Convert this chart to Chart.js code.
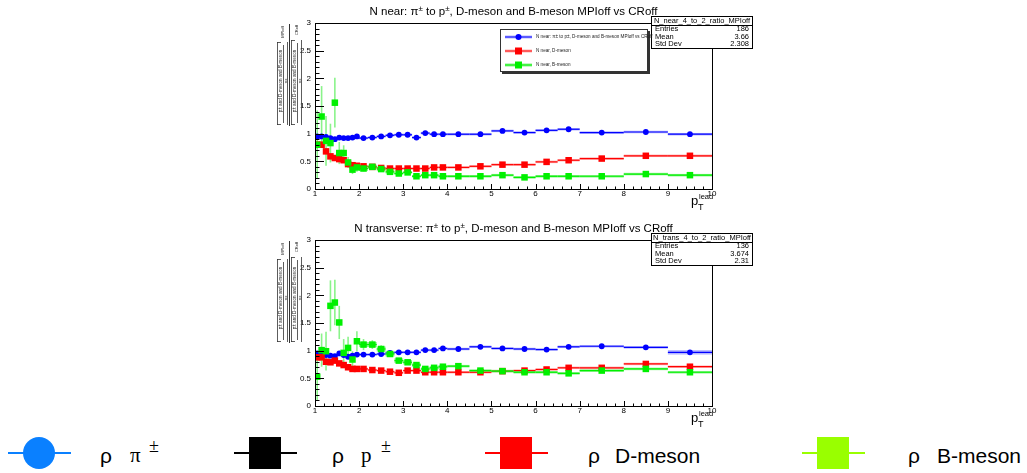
<!DOCTYPE html>
<html>
<head>
<meta charset="utf-8">
<script src="https://cdn.jsdelivr.net/npm/chart.js@4.4.0/dist/chart.umd.min.js"></script>
<style>
  html, body { margin: 0; padding: 0; background: #fff; }
  #page { position: relative; width: 1027px; height: 473px; overflow: hidden; }
  .pane { position: absolute; left: 0; width: 1027px; height: 215px; }
  .key { position: absolute; }
  .txt { position: absolute; white-space: nowrap; color: #000; line-height: 21px; font-size: 21px; top: 445px; }
  .sans { font-family: "Liberation Sans", Arial, sans-serif; }
  .serif { font-family: "Liberation Serif", "Times New Roman", serif; }
  .sup { position: absolute; white-space: nowrap; font-family: "Liberation Serif", serif; font-size: 18px; line-height: 18px; top: 437px; }
</style>
</head>
<body>
<div id="page">
  <div class="pane" style="top:0"><canvas id="nearChart" width="1027" height="215"></canvas></div>
  <div class="pane" style="top:215px"><canvas id="transChart" width="1027" height="215"></canvas></div>

  <!-- species key -->
  <div class="key" style="left:8px;top:452px;width:63px;height:2px;background:#0a80ff"></div>
  <div class="key" style="left:23px;top:437px;width:32px;height:32px;border-radius:50%;background:#0a80ff"></div>
  <div class="txt sans" style="left:100px">ρ</div>
  <div class="txt serif" style="left:130px">π</div>
  <div class="sup" style="left:149px">±</div>

  <div class="key" style="left:234px;top:452px;width:63px;height:2px;background:#000"></div>
  <div class="key" style="left:249px;top:437px;width:32px;height:32px;background:#000"></div>
  <div class="txt sans" style="left:332px">ρ</div>
  <div class="txt serif" style="left:361px">p</div>
  <div class="sup" style="left:381px">±</div>

  <div class="key" style="left:485px;top:452px;width:63px;height:2px;background:#ff0000"></div>
  <div class="key" style="left:500px;top:437px;width:32px;height:32px;background:#ff0000"></div>
  <div class="txt sans" style="left:588px">ρ</div>
  <div class="txt sans" style="left:615px">D-meson</div>

  <div class="key" style="left:802px;top:452px;width:63px;height:2px;background:#99ff00"></div>
  <div class="key" style="left:817px;top:437px;width:32px;height:32px;background:#99ff00"></div>
  <div class="txt sans" style="left:908px">ρ</div>
  <div class="txt sans" style="left:937px">B-meson</div>
</div>

<script>
Chart.defaults.font.family = '"Liberation Sans", Arial, Helvetica, sans-serif';
var SANS = '"Liberation Sans", Arial, Helvetica, sans-serif';

// pT(lead) binning, shared by every histogram
var binEdges = [1, 1.1, 1.2, 1.3, 1.4, 1.5, 1.6, 1.7, 1.8, 1.9, 2, 2.2, 2.4, 2.6, 2.8, 3, 3.2, 3.4, 3.6, 3.8,
                4, 4.5, 5, 5.5, 6, 6.5, 7, 8, 9, 10];
var xTickVals = [1, 2, 3, 4, 5, 6, 7, 8, 9, 10];
var yTickVals = [0, 0.5, 1, 1.5, 2, 2.5, 3];

// N near ratios MPIoff / CRoff
var nearPi    = [0.95, 0.95, 0.94, 0.92, 0.90, 0.93, 0.92, 0.92, 0.93, 0.95, 0.92, 0.93, 0.95, 0.97, 0.98,
                 0.98, 0.93, 1.01, 0.99, 0.99, 0.99, 0.99, 1.05, 1.02, 1.06, 1.08, 1.02, 1.03, 0.99];
var nearPiErr = [0.04, 0.03, 0.03, 0.03, 0.03, 0.02, 0.02, 0.02, 0.02, 0.02, 0.02, 0.02, 0.02, 0.02, 0.02,
                 0.02, 0.02, 0.02, 0.02, 0.02, 0.01, 0.01, 0.01, 0.01, 0.01, 0.01, 0.01, 0.01, 0.01];
var nearD     = [0.80, 0.80, 0.68, 0.59, 0.56, 0.54, 0.52, 0.45, 0.43, 0.42, 0.41, 0.40, 0.38, 0.37, 0.37,
                 0.37, 0.37, 0.37, 0.39, 0.39, 0.39, 0.41, 0.44, 0.44, 0.49, 0.52, 0.55, 0.60, 0.60];
var nearDErr  = [0.07, 0.06, 0.05, 0.05, 0.04, 0.04, 0.03, 0.03, 0.03, 0.03, 0.02, 0.02, 0.02, 0.02, 0.02,
                 0.02, 0.02, 0.02, 0.02, 0.02, 0.02, 0.02, 0.02, 0.02, 0.02, 0.02, 0.02, 0.02, 0.02];
var nearB     = [0.80, 1.31, 0.87, 0.83, 1.56, 0.65, 0.65, 0.48, 0.35, 0.39, 0.37, 0.40, 0.36, 0.31, 0.28,
                 0.30, 0.23, 0.25, 0.25, 0.23, 0.23, 0.23, 0.25, 0.21, 0.23, 0.23, 0.23, 0.27, 0.25];
var nearBErr  = [0.62, 0.55, 0.45, 0.35, 0.45, 0.20, 0.14, 0.10, 0.08, 0.08, 0.05, 0.04, 0.03, 0.03, 0.02,
                 0.02, 0.02, 0.02, 0.02, 0.02, 0.02, 0.02, 0.02, 0.02, 0.02, 0.02, 0.02, 0.02, 0.02];

// N transverse ratios MPIoff / CRoff
var transPi    = [0.95, 0.92, 0.92, 0.91, 0.90, 0.95, 0.92, 0.89, 0.91, 0.93, 0.93, 0.93, 0.94, 0.96, 0.97,
                  0.97, 0.97, 1.01, 1.01, 1.04, 1.03, 1.07, 1.04, 1.03, 1.02, 1.07, 1.08, 1.06, 0.97];
var transPiErr = [0.03, 0.03, 0.02, 0.02, 0.02, 0.02, 0.02, 0.02, 0.02, 0.02, 0.02, 0.02, 0.02, 0.02, 0.02,
                  0.02, 0.02, 0.02, 0.02, 0.02, 0.01, 0.01, 0.01, 0.01, 0.01, 0.01, 0.01, 0.01, 0.04];
var transD     = [0.88, 0.88, 0.80, 0.79, 0.82, 0.77, 0.74, 0.70, 0.67, 0.67, 0.67, 0.65, 0.64, 0.62, 0.60,
                  0.64, 0.64, 0.61, 0.61, 0.61, 0.61, 0.61, 0.63, 0.64, 0.66, 0.69, 0.69, 0.76, 0.71];
var transDErr  = [0.06, 0.06, 0.05, 0.04, 0.04, 0.03, 0.03, 0.03, 0.02, 0.02, 0.02, 0.02, 0.02, 0.02, 0.02,
                  0.02, 0.02, 0.02, 0.02, 0.02, 0.02, 0.02, 0.02, 0.02, 0.02, 0.02, 0.02, 0.02, 0.02];
var transB     = [0.53, 1.01, 0.99, 1.81, 1.87, 1.51, 0.96, 1.05, 0.84, 1.17, 1.11, 1.11, 1.03, 0.94, 0.82,
                  0.79, 0.74, 0.67, 0.69, 0.71, 0.72, 0.64, 0.63, 0.61, 0.61, 0.59, 0.64, 0.67, 0.61];
var transBErr  = [0.42, 0.30, 0.35, 0.46, 0.41, 0.30, 0.25, 0.20, 0.15, 0.18, 0.10, 0.08, 0.07, 0.05, 0.04,
                  0.04, 0.03, 0.03, 0.03, 0.03, 0.02, 0.02, 0.02, 0.02, 0.02, 0.02, 0.02, 0.02, 0.02];

var nearTitle  = [['N near: π', 11.5], ['±', 8, -4.5], [' to p', 11.5], ['±', 8, -4.5],
                  [', D-meson and B-meson MPIoff vs CRoff', 11.5]];
var transTitle = [['N transverse: π', 11.5], ['±', 8, -4.5], [' to p', 11.5], ['±', 8, -4.5],
                  [', D-meson and B-meson MPIoff vs CRoff', 11.5]];
var nearStats  = ['N_near_4_to_2_ratio_MPIoff', ['Entries', '186'], ['Mean', '3.66'], ['Std Dev', '2.308']];
var transStats = ['N_trans_4_to_2_ratio_MPIoff', ['Entries', '136'], ['Mean', '3.674'], ['Std Dev', '2.31']];

var BLUE = '#0000ff', RED = '#ff0000', GREEN = '#00f000';

function points(vals) {
  return vals.map(function (v, i) { return { x: (binEdges[i] + binEdges[i + 1]) / 2, y: v }; });
}

function series(label, vals, errs, color, band, style, radius, order) {
  return { label: label, data: points(vals), yErr: errs, band: band,
    backgroundColor: color, borderColor: color, borderWidth: 0,
    pointStyle: style, pointRadius: radius, showLine: false, order: order };
}

// text made of runs: [text, size, dy]
function runs(ctx, parts, x, y, align) {
  var w = 0;
  parts.forEach(function (p) { ctx.font = p[1] + 'px ' + SANS; w += ctx.measureText(p[0]).width; });
  var cx = align === 'center' ? x - w / 2 : x;
  ctx.textAlign = 'left';
  ctx.textBaseline = 'alphabetic';
  parts.forEach(function (p) {
    ctx.font = p[1] + 'px ' + SANS;
    ctx.fillText(p[0], cx, y + (p[2] || 0));
    cx += ctx.measureText(p[0]).width;
  });
}

function vtext(ctx, text, cx, cy, size) {
  ctx.save();
  ctx.translate(cx, cy);
  ctx.rotate(-Math.PI / 2);
  ctx.font = size + 'px ' + SANS;
  ctx.textAlign = 'center';
  ctx.textBaseline = 'middle';
  ctx.fillText(text, 0, 0);
  ctx.restore();
}

function vline(ctx, x, y0, y1) { ctx.beginPath(); ctx.moveTo(x, y0); ctx.lineTo(x, y1); ctx.stroke(); }
function hline(ctx, x0, x1, y) { ctx.beginPath(); ctx.moveTo(x0, y); ctx.lineTo(x1, y); ctx.stroke(); }

// bin-width bars and vertical error bars under the markers
function drawBins(chart) {
  var ctx = chart.ctx, a = chart.chartArea, xs = chart.scales.x, ys = chart.scales.y;
  ctx.save();
  ctx.beginPath(); ctx.rect(a.left, a.top, a.right - a.left, a.bottom - a.top); ctx.clip();
  chart.data.datasets.forEach(function (ds) {
    ds.data.forEach(function (p, i) {
      var x0 = xs.getPixelForValue(binEdges[i]), x1 = xs.getPixelForValue(binEdges[i + 1]);
      var yc = ys.getPixelForValue(p.y);
      var yt = ys.getPixelForValue(p.y + ds.yErr[i]), yb = ys.getPixelForValue(p.y - ds.yErr[i]);
      var h = Math.min(Math.max(yb - yt, 2.5), 5);
      ctx.fillStyle = ds.band;
      ctx.fillRect(x0, yc - h / 2, x1 - x0, h);
      ctx.strokeStyle = ds.borderColor;
      ctx.lineWidth = 1.2;
      hline(ctx, x0, x1, yc);
      if (yb - yt > 5) {
        ctx.strokeStyle = ds.band;
        ctx.lineWidth = 1.6;
        vline(ctx, xs.getPixelForValue(p.x), yt, yb);
      }
    });
  });
  ctx.restore();
}

function drawFrame(chart) {
  var ctx = chart.ctx, a = chart.chartArea, xs = chart.scales.x, ys = chart.scales.y;
  ctx.save();
  ctx.strokeStyle = '#000';
  ctx.lineWidth = 1;
  ctx.strokeRect(Math.round(a.left) + 0.5, Math.round(a.top) + 0.5,
                 Math.round(a.right - a.left), Math.round(a.bottom - a.top));
  // y ticks, inside the frame
  for (var k = 0; k <= 30; k++) {
    var py = Math.round(ys.getPixelForValue(k / 10)) + 0.5;
    hline(ctx, a.left, a.left + (k % 5 === 0 ? 9 : 4.5), py);
  }
  // x ticks
  for (var j = 0; j <= 45; j++) {
    var px = Math.round(xs.getPixelForValue(1 + j / 5)) + 0.5;
    vline(ctx, px, a.bottom, a.bottom - (j % 5 === 0 ? 5 : 2.5));
  }
  ctx.restore();
}

function drawAxisTitles(chart) {
  var ctx = chart.ctx, a = chart.chartArea, T = a.top, B = a.bottom;
  ctx.save();
  ctx.fillStyle = '#000';
  // pT lead
  ctx.font = '13px ' + SANS;
  ctx.textAlign = 'left';
  ctx.textBaseline = 'alphabetic';
  ctx.fillText('p', 691, B + 16);
  ctx.font = '9px ' + SANS;
  ctx.fillText('T', 698, B + 21);
  ctx.font = '7.5px ' + SANS;
  ctx.fillText('lead', 699, B + 10);

  // rotated ratio label
  ctx.strokeStyle = '#333';
  ctx.fillStyle = '#222';
  ctx.lineWidth = 0.8;
  var yc = T + 58;
  // numerator group
  vline(ctx, 277.5, T + 19, T + 102);
  hline(ctx, 277, 281, T + 19.5); hline(ctx, 277, 281, T + 101.5);
  vtext(ctx, 'p± and D-meson and B-meson', 281, yc, 4.6);
  vline(ctx, 283.5, T + 22, T + 100);
  vtext(ctx, 'π±', 285.5, yc, 4);
  vline(ctx, 287.5, T + 19, T + 102);
  vtext(ctx, 'MPIoff', 283, T + 9, 4);
  // main fraction bar
  ctx.lineWidth = 1;
  vline(ctx, 289.5, T + 1, T + 103);
  ctx.lineWidth = 0.8;
  // denominator group
  vline(ctx, 291.5, T + 17, T + 102);
  hline(ctx, 291, 295, T + 17.5); hline(ctx, 291, 295, T + 101.5);
  vtext(ctx, 'p± and D-meson and B-meson', 295, yc, 4.6);
  vline(ctx, 297.5, T + 20, T + 100);
  vtext(ctx, 'π±', 299.5, yc, 4);
  vline(ctx, 301.5, T + 17, T + 102);
  vtext(ctx, 'CRoff', 297, T + 7, 4);
  ctx.restore();
}

function drawStats(chart, st) {
  var ctx = chart.ctx, T = chart.chartArea.top;
  var x0 = 651, x1 = 753, y0 = T - 7, y1 = T + 26;
  ctx.save();
  ctx.fillStyle = '#fff';
  ctx.fillRect(x0, y0, x1 - x0, y1 - y0);
  ctx.strokeStyle = '#000';
  ctx.lineWidth = 1;
  ctx.strokeRect(x0 + 0.5, y0 + 0.5, x1 - x0 - 1, y1 - y0 - 1);
  hline(ctx, x0, x1, Math.round(T + 1.5) + 0.5);
  ctx.fillStyle = '#000';
  ctx.font = '7.5px ' + SANS;
  ctx.textBaseline = 'alphabetic';
  ctx.textAlign = 'center';
  ctx.fillText(st[0], (x0 + x1) / 2, T);
  for (var r = 1; r < st.length; r++) {
    var by = T + 0.5 + r * 7.6;
    ctx.textAlign = 'left';
    ctx.fillText(st[r][0], x0 + 4, by);
    ctx.textAlign = 'right';
    ctx.fillText(st[r][1], x1 - 4, by);
  }
  ctx.restore();
}

function drawLegend(chart) {
  var ctx = chart.ctx;
  var x0 = 500, y0 = 29, x1 = 648, y1 = 72;
  var rows = [37, 51, 65];
  ctx.save();
  ctx.fillStyle = '#fff';
  ctx.fillRect(x0, y0, x1 - x0, y1 - y0);
  ctx.fillStyle = '#333';
  ctx.fillRect(x0 + 2, y1, x1 - x0, 2);
  ctx.fillRect(x1, y0 + 2, 2, y1 - y0);
  ctx.strokeStyle = '#333';
  ctx.lineWidth = 1;
  ctx.strokeRect(x0 + 0.5, y0 + 0.5, x1 - x0 - 1, y1 - y0 - 1);
  chart.data.datasets.forEach(function (ds, i) {
    var y = rows[i];
    ctx.strokeStyle = ds.band;
    ctx.lineWidth = 3;
    hline(ctx, 505, 532, y);
    ctx.strokeStyle = ds.borderColor;
    ctx.lineWidth = 1;
    hline(ctx, 505, 532, y);
    ctx.fillStyle = ds.backgroundColor;
    if (ds.pointStyle === 'circle') {
      ctx.beginPath(); ctx.arc(518.5, y, 3, 0, Math.PI * 2); ctx.fill();
    } else {
      ctx.fillRect(515, y - 3.5, 7, 7);
    }
    ctx.fillStyle = '#222';
    ctx.font = '4.6px ' + SANS;
    ctx.textAlign = 'left';
    ctx.textBaseline = 'middle';
    ctx.fillText(ds.label, 536, y);
  });
  ctx.restore();
}

function rootPad(cfg) {
  return {
    id: 'rootPad',
    beforeDatasetsDraw: function (chart) { drawBins(chart); },
    afterDatasetsDraw: function (chart) {
      drawFrame(chart);
      drawAxisTitles(chart);
      var ctx = chart.ctx;
      ctx.save();
      ctx.fillStyle = '#000';
      runs(ctx, cfg.title, (chart.chartArea.left + chart.chartArea.right) / 2, cfg.titleY, 'center');
      ctx.restore();
      drawStats(chart, cfg.stats);
      if (cfg.legend) drawLegend(chart);
    }
  };
}

function padOptions(padTop, padBottom) {
  return {
    responsive: false,
    animation: false,
    events: [],
    layout: { padding: { left: 285, right: 315, top: padTop, bottom: padBottom } },
    plugins: { legend: { display: false }, tooltip: { enabled: false } },
    scales: {
      x: {
        type: 'linear', min: 1, max: 10,
        grid: { display: false, drawTicks: false },
        border: { display: false },
        afterBuildTicks: function (s) { s.ticks = xTickVals.map(function (v) { return { value: v }; }); },
        ticks: { padding: 0, font: { size: 8 }, color: '#000', maxRotation: 0, autoSkip: false,
                 callback: function (v) { return String(v); } },
        afterFit: function (s) { s.height = 14; }
      },
      y: {
        type: 'linear', min: 0, max: 3,
        grid: { display: false, drawTicks: false },
        border: { display: false },
        afterBuildTicks: function (s) { s.ticks = yTickVals.map(function (v) { return { value: v }; }); },
        ticks: { padding: 4, font: { size: 8 }, color: '#000',
                 callback: function (v) { return String(v); } },
        afterFit: function (s) { s.width = 30; }
      }
    }
  };
}

new Chart(document.getElementById('nearChart'), {
  type: 'scatter',
  data: {
    datasets: [
      series('N near: π± to p±, D-meson and B-meson MPIoff vs CRoff', nearPi, nearPiErr, BLUE, 'rgba(90,90,255,0.45)', 'circle', 2.9, 3),
      series('N near, D-meson', nearD, nearDErr, RED, 'rgba(255,90,90,0.45)', 'rect', 4.6, 2),
      series('N near, B-meson', nearB, nearBErr, GREEN, 'rgba(60,235,60,0.6)', 'rect', 4.6, 1)
    ]
  },
  options: padOptions(23, 12),
  plugins: [rootPad({ title: nearTitle, titleY: 15, stats: nearStats, legend: true })]
});

new Chart(document.getElementById('transChart'), {
  type: 'scatter',
  data: {
    datasets: [
      series('N transverse: π± to p±', transPi, transPiErr, BLUE, 'rgba(90,90,255,0.45)', 'circle', 2.9, 3),
      series('N transverse, D-meson', transD, transDErr, RED, 'rgba(255,90,90,0.45)', 'rect', 4.6, 2),
      series('N transverse, B-meson', transB, transBErr, GREEN, 'rgba(60,235,60,0.6)', 'rect', 4.6, 1)
    ]
  },
  options: padOptions(25, 10),
  plugins: [rootPad({ title: transTitle, titleY: 17, stats: transStats, legend: false })]
});
</script>
</body>
</html>
